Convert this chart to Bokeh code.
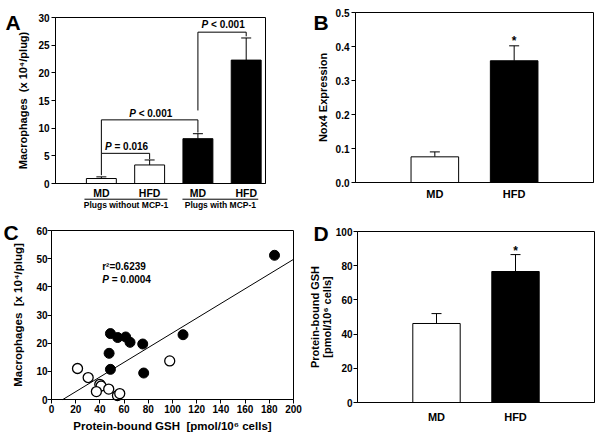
from bokeh.plotting import figure
from bokeh.models import (Range1d, FixedTicker, Label, Whisker, TeeHead, LinearAxis,
                          ColumnDataSource, PrintfTickFormatter)
from bokeh.layouts import row, column
from bokeh.embed import file_html
from bokeh.resources import INLINE

FONT = "Liberation Sans"
SP = "\u00a0\u00a0"

# ---------------- data ----------------
# Panel A
a_pos = [1, 2, 3, 4]
a_labels = ["MD", "HFD", "MD", "HFD"]
a_values = [0.9, 3.35, 8.1, 22.3]
a_errors = [0.3, 0.9, 0.9, 4.0]
a_colors = ["white", "white", "black", "black"]
a_yticks = [0, 5, 10, 15, 20, 25, 30]
a_groups = ["Plugs without MCP-1", "Plugs with MCP-1"]
a_group_left = [0.65, 2.68]
a_group_right = [2.37, 4.25]
# significance brackets
br_x1 = [1, 1, 3]
br_x2 = [2, 3, 4]
br_y_left = [1.5, 5.45, 13.2]
br_y_top = [5.45, 11.5, 27.35]
br_y_right = [4.4, 9.2, 26.6]
br_text = ["= 0.016", "< 0.001", "< 0.001"]
br_text_y = [6.6, 12.6, 28.7]

# Panel B
b_pos = [1, 2]
b_labels = ["MD", "HFD"]
b_values = [0.0755, 0.358]
b_errors = [0.0145, 0.044]
b_colors = ["white", "black"]
b_yticks = [0, 0.1, 0.2, 0.3, 0.4, 0.5]
b_star_y = 0.438

# Panel C
c_filled_x = [184.3, 108.7, 48.7, 54.7, 61.3, 64.9, 75.4, 47.6, 48.7, 76.2]
c_filled_y = [51.2, 23.0, 23.4, 22.0, 22.2, 20.3, 19.7, 16.4, 10.7, 9.4]
c_open_x = [21.5, 30.3, 39.9, 41.0, 37.1, 47.3, 54.5, 56.4, 97.7]
c_open_y = [11.0, 7.8, 5.4, 4.8, 2.8, 3.7, 1.4, 2.1, 13.7]
c_xticks = list(range(0, 201, 20))
c_yticks = list(range(0, 61, 10))
c_slope = 0.261
c_intercept = -2.45
c_r2 = "r\u00b2=0.6239"
c_p = "= 0.0004"

# Panel D
d_pos = [1, 2]
d_labels = ["MD", "HFD"]
d_values = [46.2, 76.6]
d_errors = [5.8, 9.9]
d_colors = ["white", "black"]
d_yticks = [0, 20, 40, 60, 80, 100]
d_star_y = 92.6


def panel(W, H, box, xlim, ylim):
    """Figure whose frame is the whole canvas; the data box sits at `box` (l, r, t, b) px."""
    l, r, t, b = box
    x0, x1 = xlim
    y0, y1 = ylim
    sx = (r - l) / (x1 - x0)
    sy = (b - t) / (y1 - y0)
    p = figure(width=W, height=H,
               x_range=Range1d(x0 - l / sx, x1 + (W - r) / sx),
               y_range=Range1d(y0 - (H - b) / sy, y1 + t / sy),
               output_backend="svg", toolbar_location=None, min_border=0,
               x_axis_location=None, y_axis_location=None)
    p.outline_line_color = None
    p.background_fill_color = "white"
    p.border_fill_color = "white"
    for g in list(p.grid):
        g.visible = False
    # plot box
    p.quad(left=[x0], right=[x1], bottom=[y0], top=[y1], fill_color=None,
           line_color="black", line_width=1)
    return p


def axis(p, side, loc, bounds, ticks, labels=None, size="10px", tick_out=4, standoff=2,
         label=None, label_size="11px", label_standoff=5, fmt=None, ticks_visible=True):
    ax = LinearAxis(fixed_location=loc, ticker=FixedTicker(ticks=ticks), bounds=bounds)
    if labels is not None:
        ax.major_label_overrides = dict(zip(ticks, labels))
    if fmt is not None:
        ax.formatter = fmt
    ax.axis_line_color = "black"
    ax.axis_line_width = 1
    ax.major_tick_in = 0
    ax.major_tick_out = tick_out
    ax.major_tick_line_color = "black" if ticks_visible else None
    ax.minor_tick_line_color = None
    ax.major_label_standoff = standoff
    ax.major_label_text_font = FONT
    ax.major_label_text_font_style = "bold"
    ax.major_label_text_font_size = size
    ax.major_label_text_color = "black"
    if label is not None:
        ax.axis_label = label
        ax.axis_label_text_font = FONT
        ax.axis_label_text_font_style = "bold"
        ax.axis_label_text_font_size = label_size
        ax.axis_label_text_color = "black"
        ax.axis_label_standoff = label_standoff
    p.add_layout(ax, side)
    return ax


def text(p, x, y, t, size="10px", style="bold", align="left", baseline="middle",
         xo=0, yo=0):
    p.add_layout(Label(x=x, y=y, x_offset=xo, y_offset=yo, text=t, text_font=FONT,
                       text_font_style=style, text_font_size=size, text_align=align,
                       text_baseline=baseline, text_color="black"))


def bars(p, pos, vals, errs, cols, width):
    src = ColumnDataSource(dict(x=pos, top=vals, c=cols,
                                hi=[v + e for v, e in zip(vals, errs)]))
    p.vbar(x="x", top="top", width=width, bottom=0, fill_color="c",
           line_color="black", line_width=1, source=src)
    p.add_layout(Whisker(source=src, base="x", lower="top", upper="hi",
                         lower_head=None,
                         upper_head=TeeHead(size=10, line_color="black", line_width=1),
                         line_color="black", line_width=1))


# ---------------- Panel A ----------------
AX = (0.05, 4.4)
AY = (0, 30)
pa = panel(304, 215, (55, 265, 17, 183), AX, AY)
bars(pa, a_pos, a_values, a_errors, a_colors, 0.62)
axis(pa, "left", AX[0], AY, a_yticks, label="Macrophages" + SP + "(x 10\u2074/plug)",
     label_standoff=6)
axis(pa, "below", AY[0], AX, a_pos, a_labels, size="10.5px", tick_out=0, standoff=3,
     ticks_visible=False)
for x1, x2, yl, yt, yr in zip(br_x1, br_x2, br_y_left, br_y_top, br_y_right):
    pa.line([x1, x1, x2, x2], [yl, yt, yt, yr], line_color="black", line_width=1)
for x1, x2, t, ty in zip(br_x1, br_x2, br_text, br_text_y):
    cx = (x1 + x2) / 2
    text(pa, cx, ty, "P", style="bold italic", xo=-20.5)
    text(pa, cx, ty, t, xo=-11)
UNDER_Y = -2.84
pa.segment(x0=a_group_left, x1=a_group_right, y0=[UNDER_Y] * 2, y1=[UNDER_Y] * 2,
           line_color="black", line_width=1)
for gl, gr, g in zip(a_group_left, a_group_right, a_groups):
    text(pa, (gl + gr) / 2, UNDER_Y, g, size="8.5px", align="center", yo=-6)
text(pa, AX[0], AY[1], "A", size="21px", baseline="alphabetic", xo=-50, yo=-5)

# ---------------- Panel B ----------------
BX = (0, 3)
BY = (0, 0.5)
pb = panel(299, 215, (51, 289, 12, 182), BX, BY)
bars(pb, b_pos, b_values, b_errors, b_colors, 0.6)
axis(pb, "left", BX[0], BY, b_yticks, fmt=PrintfTickFormatter(format="%.1f"),
     label="Nox4 Expression", label_standoff=4)
axis(pb, "below", BY[0], BX, b_pos, b_labels, size="11px", tick_out=0, standoff=5,
     ticks_visible=False)
text(pb, 2, b_star_y, "*", size="12px", align="center", baseline="alphabetic", yo=-7)
text(pb, BX[0], BY[1], "B", size="21px", baseline="alphabetic", xo=-42, yo=-10)

# ---------------- Panel C ----------------
CX = (0, 200)
CY = (0, 60)
pc = panel(304, 222, (51, 293, 15, 184), CX, CY)
axis(pc, "left", CX[0], CY, c_yticks, standoff=0,
     label="Macrophages" + SP + "[x 10\u2074/plug]", label_size="11.5px", label_standoff=9)
axis(pc, "below", CY[0], CX, c_xticks, standoff=1,
     label="Protein-bound GSH" + SP + "[pmol/10\u2076 cells]", label_size="11.5px",
     label_standoff=4)
x0 = -c_intercept / c_slope
pc.line([x0, CX[1]], [0, c_slope * CX[1] + c_intercept], line_color="black", line_width=1)
pc.scatter(c_open_x, c_open_y, size=10, fill_color="white", line_color="black", line_width=1.3)
pc.scatter(c_filled_x, c_filled_y, size=10, fill_color="black", line_color="black", line_width=1)
text(pc, 41.9, 47.3, c_r2)
text(pc, 41.9, 42.6, "P", style="bold italic")
text(pc, 41.9, 42.6, c_p, xo=9.5)
text(pc, CX[0], CY[1], "C", size="21px", baseline="alphabetic", xo=-48, yo=-2)

# ---------------- Panel D ----------------
DX = (0, 3)
DY = (0, 100)
pd_ = panel(299, 222, (53, 290, 16, 187), DX, DY)
bars(pd_, d_pos, d_values, d_errors, d_colors, 0.6)
dax = axis(pd_, "left", DX[0], DY, d_yticks, standoff=1,
           label="Protein-bound GSH\n[pmol/10\u2076 cells]", label_standoff=0)
dax.axis_label_text_line_height = 0.95
axis(pd_, "below", DY[0], DX, d_pos, d_labels, size="11px", tick_out=0, standoff=8,
     ticks_visible=False)
text(pd_, 2, d_star_y, "*", size="12px", align="center", baseline="alphabetic", yo=-7)
text(pd_, DX[0], DY[1], "D", size="21px", baseline="alphabetic", xo=-44, yo=-2)

layout = column(row(pa, pb), row(pc, pd_))
open("out.html", "w").write(file_html(layout, INLINE))
